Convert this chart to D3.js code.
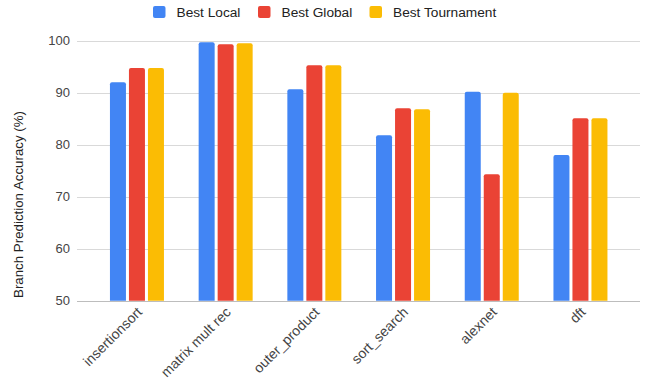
<!DOCTYPE html>
<html>
<head>
<meta charset="utf-8">
<script src="https://cdn.jsdelivr.net/npm/d3@7"></script>
<style>
	body	{ margin:0; background:#fff; }
	svg	{ font-family: Arial, "Liberation Sans", sans-serif; }
</style>
</head>
<body>
<svg id="chart" width="646" height="382"></svg>
<script>
var categories	= ["insertionsort", "matrix mult rec", "outer_product", "sort_search", "alexnet", "dft"];
var series	= ["Best Local", "Best Global", "Best Tournament"];
var colors	= ["#4285F4", "#EA4335", "#FBBC04"];
var bestLocal	= [92.0, 99.7, 90.65, 81.8, 90.2, 78.0];
var bestGlobal	= [94.75, 99.3, 95.3, 87.0, 74.3, 85.1];
var bestTourn	= [94.75, 99.5, 95.3, 86.8, 90.0, 85.1];
var yTicks	= [50, 60, 70, 80, 90, 100];

var values = [bestLocal, bestGlobal, bestTourn];
var svg = d3.select('#chart');

var y	= d3.scaleLinear().domain([50, 100]).range([300.7, 40.7]);
var x0	= d3.scaleBand().domain(categories).range([92.6, 624.8]);
var x1	= d3.scaleBand().domain(series).range([0, 54]).paddingInner(3/19);
var off	= (x0.bandwidth() - 54) / 2;

// grid lines
svg.append('g').selectAll('line').data(yTicks).enter().append('line')
	.attr('x1', 77).attr('x2', 640)
	.attr('y1', function(d){ return Math.round(y(d)) + 0.5; })
	.attr('y2', function(d){ return Math.round(y(d)) + 0.5; })
	.attr('stroke', function(d){ return d == 50 ? '#bdbdbd' : '#d9d9d9'; })
	.attr('stroke-width', 1);

// y axis labels
var yAxis = d3.axisLeft(y).tickValues(yTicks).tickSize(0).tickPadding(0);
svg.append('g').attr('transform', 'translate(70,0)').call(yAxis)
	.call(function(g){
		g.select('.domain').remove();
		g.selectAll('.tick text').attr('font-size', 13).attr('fill', '#444').attr('font-family', null);
	});

// rounded top bars
function barPath(x, yTop, w, yBot, r) {
	r = Math.min(r, (yBot - yTop) / 2);
	return 'M' + x + ',' + yBot + 'V' + (yTop + r) + 'Q' + x + ',' + yTop + ' ' + (x + r) + ',' + yTop +
		'H' + (x + w - r) + 'Q' + (x + w) + ',' + yTop + ' ' + (x + w) + ',' + (yTop + r) + 'V' + yBot + 'Z';
}
var groups = svg.append('g').selectAll('g').data(categories).enter().append('g')
	.attr('transform', function(d){ return 'translate(' + (x0(d) + off) + ',0)'; });
groups.selectAll('path').data(function(d, i){
		return series.map(function(s, k){ return { s: s, k: k, v: values[k][i] }; });
	}).enter().append('path')
	.attr('d', function(d){ return barPath(x1(d.s), y(d.v), x1.bandwidth(), y(50), 2); })
	.attr('fill', function(d){ return colors[d.k]; });

// x labels
svg.append('g').selectAll('text').data(categories).enter().append('text')
	.attr('transform', function(d){ return 'translate(' + (x0(d) + x0.bandwidth() / 2 + 6) + ',' + 313 + ') rotate(-45)'; })
	.attr('text-anchor', 'end').attr('font-size', 14).attr('fill', '#444')
	.text(function(d){ return d; });

// y title
svg.append('text')
	.attr('transform', 'translate(23,204.5) rotate(-90)')
	.attr('text-anchor', 'middle').attr('font-size', 13.3).attr('fill', '#222')
	.text('Branch Prediction Accuracy (%)');

// legend
var legX = [153, 258, 369.5];
var leg = svg.append('g').selectAll('g').data(series).enter().append('g')
	.attr('transform', function(d, i){ return 'translate(' + legX[i] + ',6)'; });
leg.append('rect').attr('width', 12.5).attr('height', 12).attr('rx', 2)
	.attr('fill', function(d, i){ return colors[i]; });
leg.append('text').attr('x', 23.5).attr('y', 11).attr('font-size', 13.7).attr('fill', '#222')
	.text(function(d){ return d; });
</script>
</body>
</html>
